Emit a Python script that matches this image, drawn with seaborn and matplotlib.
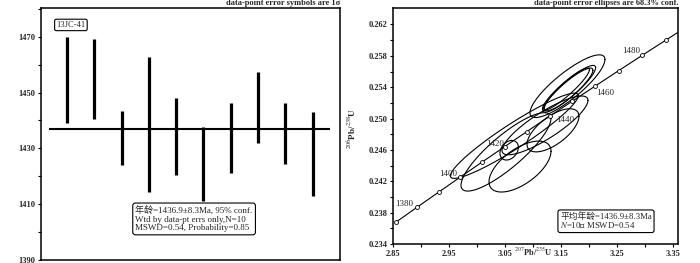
import numpy as np
import matplotlib
matplotlib.use("Agg")
import matplotlib.pyplot as plt
import seaborn as sns
from matplotlib.ticker import FixedLocator, NullLocator

# ---- data: weighted mean plot (left) ----
spot_no = [1, 2, 3, 4, 5, 6, 7, 8, 9, 10]
spot_age = [1454.6, 1454.9, 1433.6, 1438.6, 1434.4, 1424.4, 1433.7, 1444.6, 1435.2, 1428.0]
spot_err = [15.4, 14.2, 9.7, 24.3, 13.8, 13.2, 12.5, 12.8, 10.9, 15.2]
mean_age = 1436.9

# ---- data: concordia diagram (right) ----
conc_age = [1370, 1380, 1390, 1400, 1410, 1420, 1430, 1440, 1450, 1460, 1470, 1480, 1490]
conc_x = [2.8545, 2.8927, 2.9312, 2.9701, 3.0094, 3.0491, 3.0891, 3.1296,
          3.1705, 3.2118, 3.2534, 3.2955, 3.3380]
conc_y = [0.23678, 0.23870, 0.24062, 0.24255, 0.24448, 0.24641, 0.24835, 0.25029,
          0.25223, 0.25417, 0.25612, 0.25807, 0.26002]
conc_end = (3.3595, 0.26100)   # 曲线延伸到右边界

label_age = [1380, 1400, 1420, 1440, 1460, 1480]
label_x = [2.8698, 2.9479, 3.0315, 3.1570, 3.2296, 3.2752]
label_y = [0.23904, 0.24291, 0.24680, 0.24980, 0.25325, 0.25866]

# 误差椭圆: 中心, 半宽 (x), 半高 (y), 相关系数
ell_x = [3.1616, 3.1625, 3.1589, 3.1661, 3.0573, 3.0767, 3.0516, 3.0666, 3.1357, 3.1214]
ell_y = [0.25413, 0.25363, 0.25375, 0.25388, 0.24596, 0.24388, 0.24575, 0.24781, 0.24850, 0.24913]
ell_sx = [0.0671, 0.0447, 0.0420, 0.0460, 0.0165, 0.0555, 0.0805, 0.1145, 0.0465, 0.0769]
ell_sy = [0.00400, 0.00281, 0.00270, 0.00290, 0.00125, 0.00325, 0.00500, 0.00544, 0.00275, 0.00375]
ell_rho = [0.85, 0.90, 0.92, 0.90, 0.30, 0.60, 0.85, 0.94, 0.65, 0.85]

sns.set_theme(style="ticks")
plt.rcParams['font.family'] = ['Liberation Serif', 'Noto Sans CJK SC', 'DejaVu Sans']
plt.rcParams['mathtext.fontset'] = 'stix'
plt.rcParams['axes.unicode_minus'] = False

fig = plt.figure(figsize=(7, 2.63), dpi=100)
ax1 = fig.add_axes([0.0586, 0.0114, 0.4271, 0.958])
ax2 = fig.add_axes([0.5619, 0.0722, 0.4067, 0.8973])

for ax in (ax1, ax2):
    for sp in ax.spines.values():
        sp.set_linewidth(1.1)
        sp.set_color('black')
        sp.set_visible(True)
    ax.tick_params(which='both', direction='out', length=2.5, width=0.8,
                   color='black', labelsize=6, pad=1.5)

# ---------------- left panel ----------------
ax1.errorbar(spot_no, spot_age, yerr=spot_err, fmt='none', ecolor='black',
             elinewidth=2.3, capsize=0)
ax1.hlines(mean_age, 0.35, 10.65, color='black', lw=1.5)
ax1.set_xlim(0.05, 11.0)
ax1.set_ylim(1390, 1480.3)
ax1.xaxis.set_major_locator(NullLocator())
ax1.yaxis.set_major_locator(FixedLocator([1390, 1410, 1430, 1450, 1470]))
ax1.yaxis.set_minor_locator(FixedLocator([1400, 1420, 1440, 1460, 1480]))
for lab in ax1.get_yticklabels():
    lab.set_fontweight('bold')

ax1.text(1.0, 1.004, 'data-point error symbols are 1σ', transform=ax1.transAxes,
         ha='right', va='bottom', fontsize=6, fontweight='bold')
ax1.text(0.10, 0.933, '13JC-41', transform=ax1.transAxes, ha='center', va='center',
         fontsize=6.2, bbox=dict(boxstyle='round,pad=0.2', fc='white', ec='black', lw=0.8))
ax1.text(0.512, 0.163,
         '年龄=1436.9±8.3Ma, 95% conf.\nWtd by data-pt errs only,N=10\nMSWD=0.54, Probability=0.85',
         transform=ax1.transAxes, ha='center', va='center', multialignment='left',
         fontsize=6.5, linespacing=1.1,
         bbox=dict(boxstyle='round,pad=0.3', fc='white', ec='black', lw=0.8))

# ---------------- right panel ----------------
t = np.linspace(0, 2 * np.pi, 200)
for cx, cy, sx, sy, r in zip(ell_x, ell_y, ell_sx, ell_sy, ell_rho):
    ex = cx + sx * np.cos(t)
    ey = cy + sy * (r * np.cos(t) + np.sqrt(1 - r * r) * np.sin(t))
    ax2.plot(ex, ey, color='black', lw=0.8)

sns.lineplot(x=conc_x + [conc_end[0]], y=conc_y + [conc_end[1]], sort=False,
             color='black', lw=0.8, ax=ax2)
sns.scatterplot(x=conc_x, y=conc_y, marker='o', s=8, facecolor='white',
                edgecolor='black', linewidth=0.6, ax=ax2, zorder=5, clip_on=False)
for a, lx, ly in zip(label_age, label_x, label_y):
    ax2.text(lx, ly, str(a), ha='center', va='center', fontsize=6.5)

ax2.set_xlim(2.85, 3.3595)
ax2.set_ylim(0.234, 0.2641)
ax2.xaxis.set_major_locator(FixedLocator([2.85, 2.95, 3.05, 3.15, 3.25, 3.35]))
ax2.xaxis.set_minor_locator(FixedLocator([2.90, 3.00, 3.10, 3.20, 3.30]))
ax2.yaxis.set_major_locator(FixedLocator([0.234, 0.238, 0.242, 0.246, 0.250, 0.254, 0.258, 0.262]))
ax2.yaxis.set_minor_locator(FixedLocator([0.236, 0.240, 0.244, 0.248, 0.252, 0.256, 0.260]))
ax2.set_xticklabels(['2.85', '2.95', '3.05', '3.15', '3.25', '3.35'], fontweight='bold')
ax2.set_yticklabels(['0.234', '0.238', '0.242', '0.246', '0.250', '0.254', '0.258', '0.262'],
                    fontweight='bold')

ax2.set_xlabel('$^{207}$Pb/$^{235}$U', fontsize=6, fontweight='bold')
ax2.xaxis.set_label_coords(0.492, -0.035)
ax2.xaxis.label.set_va('center')
ax2.set_ylabel('$^{206}$Pb/$^{238}$U', fontsize=6.5, fontweight='bold')
ax2.yaxis.set_label_coords(-0.125, 0.49)

ax2.text(1.0, 1.004, 'data-point error ellipses are 68.3% conf.', transform=ax2.transAxes,
         ha='right', va='bottom', fontsize=6, fontweight='bold')
ax2.text(0.747, 0.097, '平均年龄=1436.9±8.3Ma\n$N$=10， MSWD=0.54',
         transform=ax2.transAxes, ha='center', va='center', multialignment='left',
         fontsize=6.3, linespacing=1.0,
         bbox=dict(boxstyle='round,pad=0.25', fc='white', ec='black', lw=0.8))

fig.savefig('out.png', dpi=100)
